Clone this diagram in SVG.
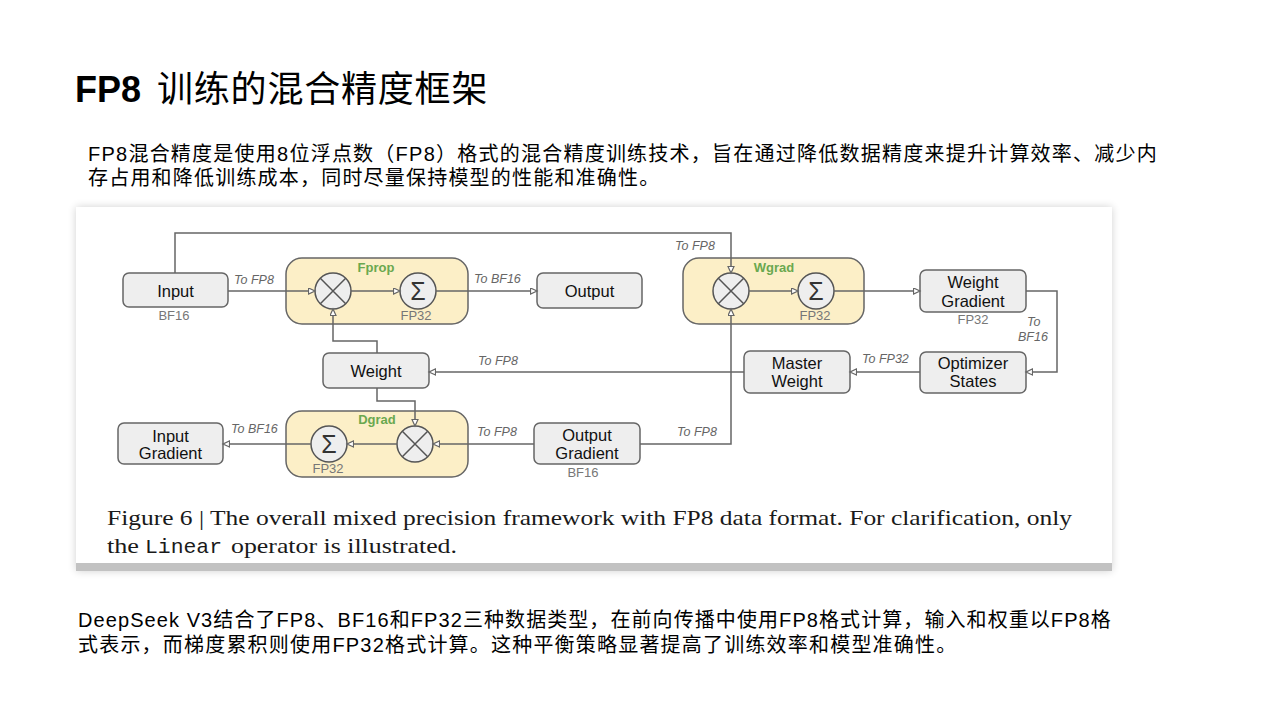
<svg xmlns="http://www.w3.org/2000/svg" width="1280" height="720" viewBox="0 0 1280 720">
<defs>
<filter id="sh" x="-5%" y="-10%" width="110%" height="120%"><feGaussianBlur stdDeviation="4"/></filter>
<marker id="ah" markerUnits="userSpaceOnUse" markerWidth="10" markerHeight="10" refX="7" refY="3.5" orient="auto">
<path d="M0.5,0.5 L7,3.5 L0.5,6.5 z" fill="#ffffff" stroke="#666" stroke-width="1.2"/>
</marker>
<style>
.zh{font-family:"Liberation Sans","Noto Sans CJK SC",sans-serif;fill:#000}
.box{fill:#eeeeee;stroke:#666;stroke-width:1.5}
.grp{fill:#fcefc7;stroke:#666;stroke-width:1.5}
.op{fill:#eeeeee;stroke:#555;stroke-width:1.5}
.x{stroke:#555;stroke-width:1.5}
.lbl{font-family:"Liberation Sans",Arial,sans-serif;font-size:16.5px;fill:#111;text-anchor:middle}
.sub{font-family:"Liberation Sans",Arial,sans-serif;font-size:13px;fill:#777;text-anchor:middle}
.tag{font-family:"Liberation Sans",Arial,sans-serif;font-size:12.5px;font-style:italic;fill:#666}
.gt{font-family:"Liberation Sans",Arial,sans-serif;font-size:13px;font-weight:bold;fill:#6aa84f;text-anchor:middle}
.sig{font-family:"Liberation Sans",Arial,sans-serif;font-size:25px;fill:#333;text-anchor:middle}
.cn{fill:none;stroke:#666;stroke-width:1.5;marker-end:url(#ah)}
.cap{font-family:"Liberation Serif","DejaVu Serif",serif;font-size:21px;fill:#1a1a1a}
</style>
</defs>
<rect width="1280" height="720" fill="#ffffff"/>

<g id="title">
<text x="75" y="102" class="zh" font-size="36"><tspan font-weight="bold">FP8</tspan><tspan x="157" letter-spacing="0.8">训练的混合精度框架</tspan></text>
</g>

<g id="intro" class="zh" font-size="20" letter-spacing="1.2">
<text x="88" y="161" textLength="1070" lengthAdjust="spacing">FP8混合精度是使用8位浮点数（FP8）格式的混合精度训练技术，旨在通过降低数据精度来提升计算效率、减少内</text>
<text x="88" y="185">存占用和降低训练成本，同时尽量保持模型的性能和准确性。</text>
</g>

<g id="panel">
<rect x="76" y="207" width="1036" height="364" fill="#000" opacity="0.18" filter="url(#sh)"/>
<rect x="76" y="207" width="1036" height="364" fill="#ffffff"/>
<rect x="76" y="563" width="1036" height="8" fill="#c2c2c2"/>
</g>

<g id="fprop">
<rect class="grp" x="286" y="258" width="182" height="66" rx="16"/>
<text class="gt" x="376" y="272">Fprop</text>
<circle class="op" cx="333" cy="291" r="18"/>
<path class="x" d="M320.3,278.3 L345.7,303.7 M345.7,278.3 L320.3,303.7"/>
<circle class="op" cx="418" cy="291" r="18"/>
<text class="sig" x="418" y="300">Σ</text>
<text class="sub" x="416" y="320">FP32</text>
</g>

<g id="wgrad">
<rect class="grp" x="683" y="258" width="181" height="66" rx="16"/>
<text class="gt" x="774" y="272">Wgrad</text>
<circle class="op" cx="731" cy="291" r="18"/>
<path class="x" d="M718.3,278.3 L743.7,303.7 M743.7,278.3 L718.3,303.7"/>
<circle class="op" cx="816" cy="291" r="18"/>
<text class="sig" x="816" y="300">Σ</text>
<text class="sub" x="815" y="320">FP32</text>
</g>

<g id="dgrad">
<rect class="grp" x="286" y="411" width="182" height="66" rx="16"/>
<text class="gt" x="377" y="424">Dgrad</text>
<circle class="op" cx="329" cy="444" r="18"/>
<text class="sig" x="329" y="453">Σ</text>
<circle class="op" cx="415" cy="444" r="18"/>
<path class="x" d="M402.3,431.3 L427.7,456.7 M427.7,431.3 L402.3,456.7"/>
<text class="sub" x="328" y="473">FP32</text>
</g>

<g id="input">
<rect class="box" x="123" y="273" width="105" height="34" rx="6"/>
<text class="lbl" x="175.5" y="297">Input</text>
<text class="sub" x="174" y="320">BF16</text>
</g>

<g id="output">
<rect class="box" x="537" y="273" width="105" height="35" rx="6"/>
<text class="lbl" x="589.5" y="297">Output</text>
</g>

<g id="weight">
<rect class="box" x="323" y="353" width="106" height="35" rx="6"/>
<text class="lbl" x="376" y="377">Weight</text>
</g>

<g id="weight-gradient">
<rect class="box" x="920" y="270" width="106" height="42" rx="6"/>
<text class="lbl" x="973" y="288">Weight</text>
<text class="lbl" x="973" y="307">Gradient</text>
<text class="sub" x="973" y="324">FP32</text>
</g>

<g id="optimizer-states">
<rect class="box" x="920" y="352" width="106" height="41" rx="6"/>
<text class="lbl" x="973" y="369">Optimizer</text>
<text class="lbl" x="973" y="387">States</text>
</g>

<g id="master-weight">
<rect class="box" x="744" y="351" width="106" height="42" rx="6"/>
<text class="lbl" x="797" y="369">Master</text>
<text class="lbl" x="797" y="387">Weight</text>
</g>

<g id="input-gradient">
<rect class="box" x="118" y="423" width="105" height="41" rx="6"/>
<text class="lbl" x="170.5" y="442">Input</text>
<text class="lbl" x="170.5" y="459">Gradient</text>
</g>

<g id="output-gradient">
<rect class="box" x="534" y="423" width="106" height="41" rx="6"/>
<text class="lbl" x="587" y="441">Output</text>
<text class="lbl" x="587" y="459">Gradient</text>
<text class="sub" x="583" y="477">BF16</text>
</g>

<g id="connectors">
<path class="cn" d="M228,291 H315"/>
<path class="cn" d="M351,291 H400"/>
<path class="cn" d="M436,291 H537"/>
<path class="cn" d="M175,273 V233 H731 V273"/>
<path class="cn" d="M377,353 V341 H333 V309"/>
<path class="cn" d="M377,388 V401 H415 V426"/>
<path class="cn" d="M749,291 H798"/>
<path class="cn" d="M834,291 H920"/>
<path class="cn" d="M1026,291 H1057 V372 H1026"/>
<path class="cn" d="M920,372 H850"/>
<path class="cn" d="M744,372 H429"/>
<path class="cn" d="M534,444 H433"/>
<path class="cn" d="M397,444 H347"/>
<path class="cn" d="M311,444 H223"/>
<path class="cn" d="M640,444 H731 V309"/>
<text class="tag" x="234" y="284">To FP8</text>
<text class="tag" x="474" y="283">To BF16</text>
<text class="tag" x="675" y="250">To FP8</text>
<text class="tag" x="478" y="365">To FP8</text>
<text class="tag" x="862" y="363">To FP32</text>
<text class="tag" x="1027" y="326">To</text>
<text class="tag" x="1018" y="341">BF16</text>
<text class="tag" x="231" y="433">To BF16</text>
<text class="tag" x="477" y="436">To FP8</text>
<text class="tag" x="677" y="436">To FP8</text>
</g>

<g id="caption">
<text class="cap" x="107" y="525" textLength="965" lengthAdjust="spacingAndGlyphs">Figure 6 | The overall mixed precision framework with FP8 data format. For clarification, only</text>
<text class="cap" x="107" y="553" textLength="32" lengthAdjust="spacingAndGlyphs">the</text>
<text x="145" y="553" font-family="'Liberation Mono','DejaVu Sans Mono',monospace" font-size="21" fill="#1a1a1a" textLength="77" lengthAdjust="spacingAndGlyphs">Linear</text>
<text class="cap" x="231" y="553" textLength="226" lengthAdjust="spacingAndGlyphs">operator is illustrated.</text>
</g>

<g id="summary" class="zh" font-size="20" letter-spacing="1.2">
<text x="78" y="627" textLength="1034" lengthAdjust="spacing">DeepSeek V3结合了FP8、BF16和FP32三种数据类型，在前向传播中使用FP8格式计算，输入和权重以FP8格</text>
<text x="78" y="652">式表示，而梯度累积则使用FP32格式计算。这种平衡策略显著提高了训练效率和模型准确性。</text>
</g>
</svg>
